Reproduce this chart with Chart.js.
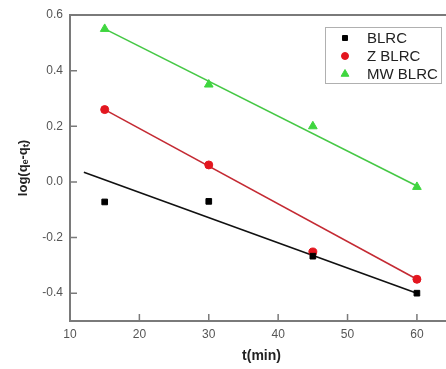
<!DOCTYPE html>
<html lang="en">
<head>
<meta charset="UTF-8">
<title>log(qe-qt) vs t</title>
<script src="https://cdn.jsdelivr.net/npm/chart.js"></script>
<style>
    html, body { margin: 0; padding: 0; background: #fff; overflow: hidden; }
    #chart-container { position: absolute; left: 0; top: 0; width: 456px; height: 369px; }
</style>
</head>
<body>
<div id="chart-container">
    <canvas id="kineticChart" width="456" height="369"></canvas>
</div>

<script>
    // measured points
    const times = [15, 30, 45, 60];
    const blrc = [-0.072, -0.07, -0.267, -0.40];
    const zBlrc = [0.26, 0.061, -0.252, -0.35];
    const mwBlrc = [0.55, 0.35, 0.20, -0.018];

    // linear fit lines (end points)
    const fitBlrcX = [12, 60];
    const fitBlrcY = [0.035, -0.40];
    const fitZX = [15, 60];
    const fitZY = [0.26, -0.35];
    const fitMwX = [15, 60];
    const fitMwY = [0.55, -0.015];

    const xTicks = [10, 20, 30, 40, 50, 60];
    const yTicks = [-0.4, -0.2, 0.0, 0.2, 0.4, 0.6];

    const toPoints = (xs, ys) => xs.map((x, i) => ({ x: x, y: ys[i] }));

    // frame around the plot with inward ticks
    const framePlugin = {
        id: 'frame',
        afterDraw(chart) {
            const { ctx, chartArea: a, scales } = chart;
            ctx.save();
            ctx.strokeStyle = '#7a7a7a';
            ctx.lineWidth = 2;
            ctx.strokeRect(a.left, a.top, a.right - a.left, a.bottom - a.top);
            ctx.lineWidth = 1.5;
            ctx.beginPath();
            xTicks.forEach(v => {
                const px = scales.x.getPixelForValue(v);
                ctx.moveTo(px, a.bottom);
                ctx.lineTo(px, a.bottom - 7);
            });
            yTicks.forEach(v => {
                const py = scales.y.getPixelForValue(v);
                ctx.moveTo(a.left, py);
                ctx.lineTo(a.left + 7, py);
            });
            ctx.stroke();
            ctx.restore();
        }
    };

    // boxed legend in the upper right corner
    const boxLegend = {
        id: 'boxLegend',
        afterDraw(chart) {
            const ctx = chart.ctx;
            ctx.save();
            ctx.strokeStyle = '#b0b0b0';
            ctx.lineWidth = 1;
            ctx.strokeRect(325.5, 27.5, 116, 56);
            ctx.font = '15px "Liberation Sans", Arial, sans-serif';
            ctx.textBaseline = 'middle';
            const rows = [38, 56, 74];
            chart.data.datasets.slice(0, 3).forEach((ds, i) => {
                ctx.fillStyle = ds.backgroundColor;
                ctx.strokeStyle = ds.backgroundColor;
                Chart.helpers.drawPoint(ctx, {
                    pointStyle: ds.pointStyle,
                    radius: ds.pointRadius - 0.5,
                    borderWidth: 1,
                    rotation: 0
                }, 345, rows[i]);
                ctx.fillStyle = '#222';
                ctx.fillText(ds.label, 367, rows[i] + 1);
            });
            ctx.restore();
        }
    };

    const ctx = document.getElementById('kineticChart').getContext('2d');

    new Chart(ctx, {
        type: 'scatter',
        data: {
            datasets: [
                {
                    label: 'BLRC',
                    data: toPoints(times, blrc),
                    pointStyle: 'rect',
                    pointRadius: 4,
                    backgroundColor: '#000000',
                    borderColor: '#000000',
                    showLine: false
                },
                {
                    label: 'Z BLRC',
                    data: toPoints(times, zBlrc),
                    pointStyle: 'circle',
                    pointRadius: 4,
                    backgroundColor: '#e3161f',
                    borderColor: '#e3161f',
                    showLine: false
                },
                {
                    label: 'MW BLRC',
                    data: toPoints(times, mwBlrc),
                    pointStyle: 'triangle',
                    pointRadius: 5,
                    backgroundColor: '#3fd63f',
                    borderColor: '#3fd63f',
                    showLine: false
                },
                {
                    label: 'BLRC fit',
                    data: toPoints(fitBlrcX, fitBlrcY),
                    showLine: true,
                    pointRadius: 0,
                    borderColor: '#111111',
                    borderWidth: 1.6
                },
                {
                    label: 'Z BLRC fit',
                    data: toPoints(fitZX, fitZY),
                    showLine: true,
                    pointRadius: 0,
                    borderColor: '#c42a33',
                    borderWidth: 1.6
                },
                {
                    label: 'MW BLRC fit',
                    data: toPoints(fitMwX, fitMwY),
                    showLine: true,
                    pointRadius: 0,
                    borderColor: '#45c845',
                    borderWidth: 1.6
                }
            ]
        },
        options: {
            responsive: false,
            animation: false,
            layout: { autoPadding: false, padding: { top: 15, right: 3, left: 0, bottom: 0 } },
            plugins: {
                legend: { display: false },
                tooltip: { enabled: false }
            },
            scales: {
                x: {
                    type: 'linear',
                    min: 10,
                    max: 65.2,
                    afterBuildTicks: s => { s.ticks = xTicks.map(v => ({ value: v })); },
                    afterFit: s => { s.height = 48; s.paddingLeft = 0; s.paddingRight = 0; },
                    grid: { display: false, drawTicks: false },
                    border: { display: false },
                    ticks: {
                        padding: 6,
                        color: '#555',
                        font: { family: '"Liberation Sans", Arial, sans-serif', size: 12 },
                        callback: v => String(v)
                    },
                    title: {
                        display: true,
                        text: 't(min)',
                        color: '#222',
                        font: { family: '"Liberation Sans", Arial, sans-serif', size: 14, weight: 'bold' },
                        padding: { top: 0, bottom: 4 }
                    }
                },
                y: {
                    type: 'linear',
                    min: -0.5,
                    max: 0.6,
                    afterBuildTicks: s => { s.ticks = yTicks.map(v => ({ value: v })); },
                    afterFit: s => { s.width = 70; s.paddingTop = 0; s.paddingBottom = 0; },
                    grid: { display: false, drawTicks: false },
                    border: { display: false },
                    ticks: {
                        padding: 7,
                        color: '#555',
                        font: { family: '"Liberation Sans", Arial, sans-serif', size: 12 },
                        callback: v => v.toFixed(1)
                    },
                    title: {
                        display: true,
                        text: 'log(qₑ-qₜ)',
                        color: '#222',
                        font: { family: '"Liberation Sans", Arial, sans-serif', size: 13, weight: 'bold' },
                        padding: { top: 16, bottom: 0 }
                    }
                }
            }
        },
        plugins: [framePlugin, boxLegend]
    });
</script>
</body>
</html>
